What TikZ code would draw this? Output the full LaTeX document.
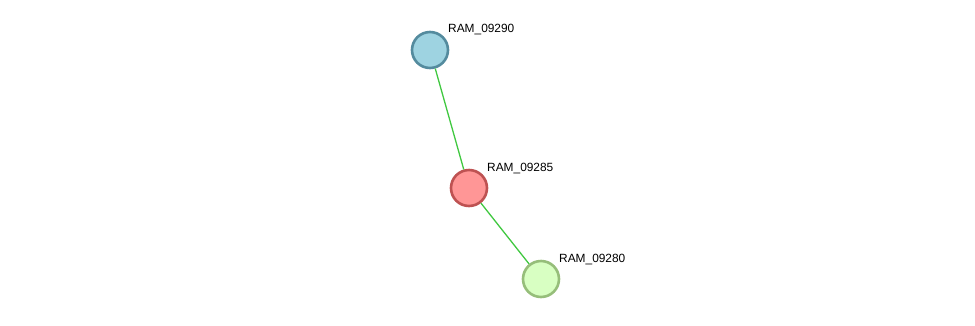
\documentclass[tikz,border=0pt]{standalone}
\usepackage{fontspec}
\setmainfont{Liberation Sans}
\usepackage{tikz}
\usetikzlibrary{positioning,calc}
\usepackage{xcolor}

\definecolor{blueFill}{RGB}{158,211,225}
\definecolor{blueLine}{RGB}{84,139,158}
\definecolor{redFill}{RGB}{255,150,150}
\definecolor{redLine}{RGB}{190,82,82}
\definecolor{greenFill}{RGB}{216,255,194}
\definecolor{greenLine}{RGB}{150,190,122}
\definecolor{edgeGreen}{RGB}{64,200,64}

\tikzset{
    protein/.style={circle, line width=2.6pt, minimum size=36pt, inner sep=0pt},
    plabel/.style={anchor=base west, font=\fontsize{11.9}{14}\selectfont, inner sep=0pt},
    link/.style={edgeGreen, line width=1.3pt}
}

\begin{document}
\begin{tikzpicture}[x=1pt, y=-1pt]
    \useasboundingbox (0,0) rectangle (975,325);

    % Proteins
    \node[protein, draw=blueLine, fill=blueFill] (r9290) at (430,50) {};
    \node[protein, draw=redLine, fill=redFill] (r9285) at (469,188) {};
    \node[protein, draw=greenLine, fill=greenFill] (r9280) at (541,279) {};

    % Edges
    \draw[link] (r9290) -- (r9285);
    \draw[link] (r9285) -- (r9280);

    % Labels
    \node[plabel] (l9290) at ($(r9290.center)+(18,-18)$) {RAM\_09290};
    \node[plabel] (l9285) at ($(r9285.center)+(18,-17)$) {RAM\_09285};
    \node[plabel] (l9280) at ($(r9280.center)+(18,-17)$) {RAM\_09280};
\end{tikzpicture}
\end{document}
